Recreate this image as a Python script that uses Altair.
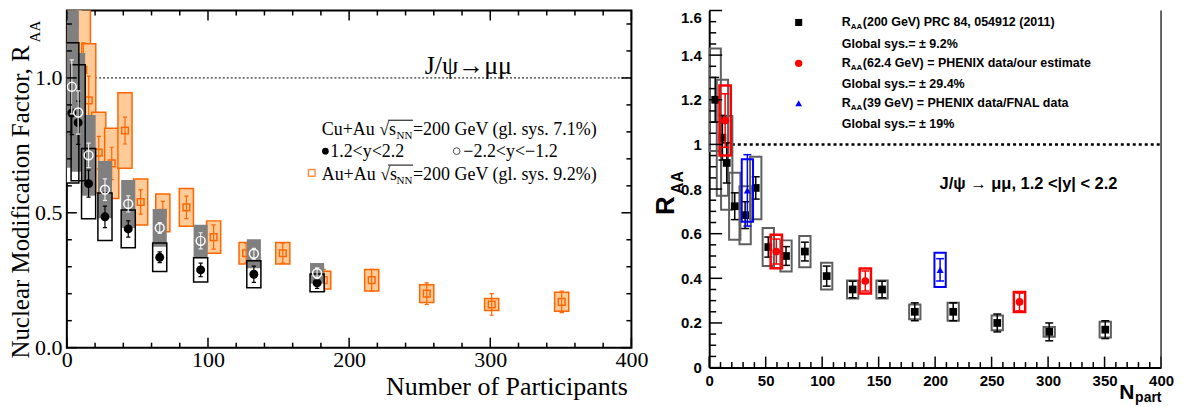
import altair as alt
import pandas as pd

# ---------------- data ----------------
# Au+Au 200 GeV, PHENIX PRC 84, 054912 (2011)
npart_auau = [5.3, 11.7, 15.5, 22.6, 31.8, 41.2, 52.3, 68.0, 84.7, 104.0, 127.0, 153.0, 182.0, 216.0, 255.0, 301.0, 350.6]
raa_auau = [1.20, 1.03, 0.917, 0.723, 0.683, 0.805, 0.54, 0.50, 0.52, 0.41, 0.35, 0.35, 0.25, 0.25, 0.20, 0.16, 0.17]
stat_auau = [0.10, 0.10, 0.09, 0.06, 0.06, 0.05, 0.045, 0.042, 0.042, 0.045, 0.037, 0.037, 0.04, 0.04, 0.04, 0.04, 0.04]
sys_auau = [0.23, 0.26, 0.21, 0.15, 0.13, 0.14, 0.085, 0.07, 0.07, 0.06, 0.04, 0.04, 0.033, 0.04, 0.033, 0.022, 0.035]

# Cu+Au 200 GeV
npart_cuau = [3.5, 8.0, 15.4, 27.0, 43.5, 65.8, 94.8, 132.5, 177.3]
raa_fwd = [0.87, 0.834, 0.608, 0.485, 0.44, 0.335, 0.288, 0.272, 0.24]
stat_fwd = [0.08, 0.08, 0.05, 0.04, 0.03, 0.02, 0.025, 0.03, 0.02]
sys_fwd = [0.26, 0.215, 0.13, 0.088, 0.07, 0.053, 0.045, 0.05, 0.033]
raa_bwd = [0.967, 0.872, 0.713, 0.586, 0.533, 0.444, 0.396, 0.348, 0.276]
stat_bwd = [0.10, 0.08, 0.045, 0.04, 0.03, 0.02, 0.03, 0.02, 0.02]
sys_bwd = [0.30, 0.22, 0.15, 0.106, 0.089, 0.07, 0.06, 0.054, 0.038]

# 62.4 GeV
npart_62 = [14.1, 59.4, 138.2, 274.7]
raa_62 = [1.107, 0.52, 0.388, 0.294]
stat_62 = [0.12, 0.056, 0.045, 0.04]
sys_62 = [0.157, 0.075, 0.056, 0.045]

# 39 GeV
npart_39 = [33.8, 204.4]
raa_39 = [0.794, 0.438]
stat_39 = [0.16, 0.05]
sys_39 = [0.14, 0.077]

# tick positions
lx_major = [0, 100, 200, 300, 400]
lx_minor = [20, 40, 60, 80, 120, 140, 160, 180, 220, 240, 260, 280, 320, 340, 360, 380]
ly_major = [0.0, 0.5, 1.0]
ly_minor = [0.1, 0.2, 0.3, 0.4, 0.6, 0.7, 0.8, 0.9, 1.1, 1.2]
rx_major = [0, 50, 100, 150, 200, 250, 300, 350, 400]
rx_minor = [v for v in range(10, 400, 10) if v % 50 != 0]
ry_major = [0, 0.2, 0.4, 0.6, 0.8, 1.0, 1.2, 1.4, 1.6]
ry_minor = [0.05, 0.1, 0.15, 0.25, 0.3, 0.35, 0.45, 0.5, 0.55, 0.65, 0.7, 0.75,
            0.85, 0.9, 0.95, 1.05, 1.1, 1.15, 1.25, 1.3, 1.35, 1.45, 1.5, 1.55]

BOX = 5.0  # half width of systematic boxes (Npart units)


def table(n, r, st, sy, cap):
    d = pd.DataFrame({"N": n, "R": r, "stat": st, "sys": sy})
    d["x1"] = d.N - BOX
    d["x2"] = d.N + BOX
    d["lo"] = d.R - d.sys
    d["hi"] = d.R + d.sys
    d["slo"] = d.R - d.stat
    d["shi"] = d.R + d.stat
    d["c1"] = d.N - cap
    d["c2"] = d.N + cap
    return d


one = pd.DataFrame({"k": [0]})


def txt(s, x, y, size, font, weight="normal", align="left", angle=0, color="black"):
    return (alt.Chart(one)
            .mark_text(text=s, font=font, fontSize=size, fontWeight=weight, align=align,
                       baseline="alphabetic", angle=angle, color=color)
            .encode(x=alt.value(x), y=alt.value(y)))


def hline(x1, x2, y, color="black", w=1):
    return alt.Chart(one).mark_rule(color=color, strokeWidth=w).encode(
        x=alt.value(x1), x2=alt.value(x2), y=alt.value(y))


# ================= LEFT PANEL =================
# plot origin on the page ~ (67.5, 8)
LW, LH = 566, 338
lxs = alt.Scale(domain=[0, 400], nice=False, zero=False)
lys = alt.Scale(domain=[0, 1.25], nice=False, zero=False)
SERIF = "Liberation Serif"
lxa = alt.Axis(values=lx_major, format="d", labelFont=SERIF, labelFontSize=22, labelColor="black",
               labelPadding=2, ticks=False, domain=False, grid=False, title=None, labelFlush=False)
lya = alt.Axis(values=ly_major, format=".1f", labelFont=SERIF, labelFontSize=22, labelColor="black",
               labelPadding=5, ticks=False, domain=False, grid=False, title=None, labelFlush=False)


def LX(f):
    return alt.X(f, type="quantitative", scale=lxs, axis=lxa)


def LY(f):
    return alt.Y(f, type="quantitative", scale=lys, axis=lya)


auL = table(npart_auau, raa_auau, stat_auau, sys_auau, 1.5)
fw = table(npart_cuau, raa_fwd, stat_fwd, sys_fwd, 1.5)
bw = table(npart_cuau, raa_bwd, stat_bwd, sys_bwd, 1.5)
refL = pd.DataFrame({"a": [20], "b": [400], "y": [1.0]})

ORANGE = "#ff6600"
L = []
L.append(alt.Chart(refL).mark_rule(color="black", strokeWidth=1, strokeDash=[2, 2])
         .encode(x=LX("a"), x2="b", y=LY("y")))
# Au+Au
L.append(alt.Chart(auL).mark_rect(fill="#ffcc99", stroke=ORANGE, strokeWidth=1.5, clip=True)
         .encode(x=LX("x1"), x2="x2", y=LY("lo"), y2="hi"))
L.append(alt.Chart(auL).mark_rule(color=ORANGE, strokeWidth=1.2, clip=True)
         .encode(x=LX("N"), y=LY("slo"), y2="shi"))
for c in ["slo", "shi"]:
    L.append(alt.Chart(auL).mark_rule(color=ORANGE, strokeWidth=1.2, clip=True)
             .encode(x=LX("c1"), x2="c2", y=LY(c)))
L.append(alt.Chart(auL).mark_point(shape="square", filled=False, color=ORANGE, size=45,
                                   strokeWidth=1.5, clip=True, opacity=1)
         .encode(x=LX("N"), y=LY("R")))
# Cu+Au boxes
L.append(alt.Chart(fw).mark_rect(fill="white", clip=True)
         .encode(x=LX("x1"), x2="x2", y=LY("lo"), y2="hi"))
L.append(alt.Chart(bw).mark_rect(fill="#808080", clip=True)
         .encode(x=LX("x1"), x2="x2", y=LY("lo"), y2="hi"))
L.append(alt.Chart(fw).mark_rect(fillOpacity=0, stroke="black", strokeWidth=1.5, clip=True)
         .encode(x=LX("x1"), x2="x2", y=LY("lo"), y2="hi"))
# forward
L.append(alt.Chart(fw).mark_rule(color="black", strokeWidth=1.2, clip=True)
         .encode(x=LX("N"), y=LY("slo"), y2="shi"))
for c in ["slo", "shi"]:
    L.append(alt.Chart(fw).mark_rule(color="black", strokeWidth=1.2, clip=True)
             .encode(x=LX("c1"), x2="c2", y=LY(c)))
L.append(alt.Chart(fw).mark_circle(color="black", size=80, opacity=1, clip=True)
         .encode(x=LX("N"), y=LY("R")))
# backward
L.append(alt.Chart(bw).mark_rule(color="#e8e8e8", strokeWidth=1.2, clip=True)
         .encode(x=LX("N"), y=LY("slo"), y2="shi"))
for c in ["slo", "shi"]:
    L.append(alt.Chart(bw).mark_rule(color="#e8e8e8", strokeWidth=1.2, clip=True)
             .encode(x=LX("c1"), x2="c2", y=LY(c)))
L.append(alt.Chart(bw).mark_point(shape="circle", filled=False, color="white", size=80,
                                  strokeWidth=1.5, opacity=1, clip=True)
         .encode(x=LX("N"), y=LY("R")))
# inside ticks
for vals, ln in [(lx_major, 10), (lx_minor, 5)]:
    d = pd.DataFrame({"v": vals})
    L.append(alt.Chart(d).mark_rule(color="black", strokeWidth=1.5)
             .encode(x=LX("v"), y=alt.value(LH), y2=alt.value(LH - ln)))
    L.append(alt.Chart(d).mark_rule(color="black", strokeWidth=1.5)
             .encode(x=LX("v"), y=alt.value(0), y2=alt.value(ln)))
for vals, ln in [(ly_major, 10), (ly_minor, 5)]:
    d = pd.DataFrame({"v": vals})
    L.append(alt.Chart(d).mark_rule(color="black", strokeWidth=1.5)
             .encode(y=LY("v"), x=alt.value(0), x2=alt.value(ln)))
    L.append(alt.Chart(d).mark_rule(color="black", strokeWidth=1.5)
             .encode(y=LY("v"), x=alt.value(LW), x2=alt.value(LW - ln)))

# left texts (local coords = page - (67.5, 8))
L.append(txt("Nuclear Modification Factor, R", -37.5, 35, 25, SERIF, align="right", angle=270))
L.append(txt("AA", -26.5, 32, 15, SERIF, align="left", angle=270))
L.append(txt("Number of Participants", 562.5, 385, 26, SERIF, align="right"))
L.append(txt("J/\u03c8\u2192\u03bc\u03bc", 402.5, 64, 26, SERIF, align="center"))
FS = 18
for base, head, label in [(125, "Cu+Au \u221as", "=200 GeV (gl. sys. 7.1%)"),
                          (170, "Au+Au \u221as", "=200 GeV (gl. sys. 9.2%)")]:
    L.append(txt(head, 255.5, base, FS, SERIF))
    L.append(txt("NN", 330.5, base + 4, 11, SERIF))
    L.append(txt(label, 347, base, FS, SERIF))
    L.append(hline(322, 347, base - 15))
L.append(txt("1.2<y<2.2", 264, 147, FS, SERIF))
L.append(txt("\u22122.2<y<\u22121.2", 397.5, 147, FS, SERIF))
L.append(alt.Chart(one).mark_circle(color="black", size=45, opacity=1)
         .encode(x=alt.value(259.2), y=alt.value(141)))
L.append(alt.Chart(one).mark_point(shape="circle", filled=False, color="black", size=45, strokeWidth=1)
         .encode(x=alt.value(390.8), y=alt.value(141)))
L.append(alt.Chart(one).mark_point(shape="square", filled=False, color=ORANGE, size=45, strokeWidth=1.5)
         .encode(x=alt.value(245.5), y=alt.value(162.7)))

left = alt.layer(*L).properties(width=LW, height=LH,
                                view=alt.ViewBackground(stroke="black", strokeWidth=2))

# ================= RIGHT PANEL =================
# plot origin on the page ~ (712, 8)
RW, RH = 453, 358
rxs = alt.Scale(domain=[0, 400], nice=False, zero=False)
rys = alt.Scale(domain=[0, 1.6], nice=False, zero=False)
SANS = "Liberation Sans"
rxa = alt.Axis(values=rx_major, format="d", labelFont=SANS, labelFontSize=15, labelFontWeight="bold",
               labelColor="black", labelPadding=6, ticks=False, domain=True, domainColor="black",
               domainWidth=2, grid=False, title=None, labelFlush=False)
rya = alt.Axis(values=ry_major, format="~g", labelFont=SANS, labelFontSize=15, labelFontWeight="bold",
               labelColor="black", labelPadding=8, ticks=False, domain=True, domainColor="black",
               domainWidth=2, grid=False, title=None, labelFlush=False,
               labelBaseline={"expr": "datum.value > 1.55 ? 'top' : 'middle'"})


def RX(f):
    return alt.X(f, type="quantitative", scale=rxs, axis=rxa)


def RY(f):
    return alt.Y(f, type="quantitative", scale=rys, axis=rya)


auR = table(npart_auau, raa_auau, stat_auau, sys_auau, 3.5)
d62 = table(npart_62, raa_62, stat_62, sys_62, 3.5)
d39 = table(npart_39, raa_39, stat_39, sys_39, 3.5)
refR = pd.DataFrame({"a": [20], "b": [400], "y": [1.0]})

R = []
R.append(alt.Chart(refR).mark_rule(color="black", strokeWidth=2.5, strokeDash=[3, 3])
         .encode(x=RX("a"), x2="b", y=RY("y")))


def series(d, box_color, bar_color, mark, bw=2.0):
    out = []
    out.append(alt.Chart(d).mark_rect(fillOpacity=0, stroke=box_color, strokeWidth=bw)
               .encode(x=RX("x1"), x2="x2", y=RY("lo"), y2="hi"))
    out.append(alt.Chart(d).mark_rule(color=bar_color, strokeWidth=1.5)
               .encode(x=RX("N"), y=RY("slo"), y2="shi"))
    for c in ["slo", "shi"]:
        out.append(alt.Chart(d).mark_rule(color=bar_color, strokeWidth=1.5)
                   .encode(x=RX("c1"), x2="c2", y=RY(c)))
    out.append(mark.encode(x=RX("N"), y=RY("R")))
    return out


R += series(auR, "#5f5f5f", "black",
            alt.Chart(auR).mark_square(color="black", size=60, opacity=1))
R += series(d62, "#ff0000", "#ff0000",
            alt.Chart(d62).mark_circle(color="#ff0000", size=60, opacity=1), bw=2.5)
R += series(d39, "#0000ff", "#0000ff",
            alt.Chart(d39).mark_point(shape="triangle-up", filled=True, color="#0000ff", size=50, opacity=1),
            bw=2.0)
# inside ticks
for vals, ln in [(rx_major, 11), (rx_minor, 5.5)]:
    d = pd.DataFrame({"v": vals})
    R.append(alt.Chart(d).mark_rule(color="black", strokeWidth=1.5)
             .encode(x=RX("v"), y=alt.value(RH), y2=alt.value(RH - ln)))
for vals, ln in [(ry_major, 13), (ry_minor, 7)]:
    d = pd.DataFrame({"v": vals})
    R.append(alt.Chart(d).mark_rule(color="black", strokeWidth=1.5)
             .encode(y=RY("v"), x=alt.value(0), x2=alt.value(ln)))
R.append(alt.Chart(one).mark_rule(color="#333333", strokeWidth=1.5)
         .encode(x=alt.value(RW), y=alt.value(0), y2=alt.value(RH)))

# right texts (local coords = page - (712, 8))
R.append(txt("R", -35, 205, 26, SANS, weight="bold", align="left", angle=270))
R.append(txt("AA", -26, 184, 16, SANS, weight="bold", align="left", angle=270))
R.append(txt("N", 411, 389, 21, SANS, weight="bold"))
R.append(txt("part", 427, 392, 14, SANS, weight="bold"))
LEGX = 133
rows = [(16, "(200 GeV) PRC 84, 054912 (2011)", True), (38, "Global sys.= \u00b1 9.2%", False),
        (57, "(62.4 GeV) = PHENIX data/our estimate", True), (78, "Global sys.= \u00b1 29.4%", False),
        (97, "(39 GeV) = PHENIX data/FNAL data", True), (118, "Global sys.= \u00b1 19%", False)]
for yb, s, has_r in rows:
    if has_r:
        R.append(txt("R", LEGX, yb, 12.5, SANS, weight="bold"))
        R.append(txt("AA", LEGX + 9, yb + 2.5, 8, SANS, weight="bold"))
        R.append(txt(s, LEGX + 21, yb, 12.5, SANS, weight="bold"))
    else:
        R.append(txt(s, LEGX, yb, 12.5, SANS, weight="bold"))
R.append(alt.Chart(one).mark_square(color="black", size=50, opacity=1)
         .encode(x=alt.value(89.7), y=alt.value(12)))
R.append(alt.Chart(one).mark_circle(color="#ff0000", size=55, opacity=1)
         .encode(x=alt.value(89.7), y=alt.value(53)))
R.append(alt.Chart(one).mark_point(shape="triangle-up", filled=True, color="#0000ff", size=45, opacity=1)
         .encode(x=alt.value(89.7), y=alt.value(93)))
R.append(txt("J/\u03c8 \u2192 \u03bc\u03bc, 1.2 <|y| < 2.2", 231, 179, 16.5, SANS, weight="bold"))

right = alt.layer(*R).properties(width=RW, height=RH,
                                 view=alt.ViewBackground(stroke="transparent"))

chart = (alt.hconcat(left, right, spacing=78, bounds="flush")
         .properties(padding={"left": 0, "top": 0, "right": 5, "bottom": 0})
         .configure_view(stroke="transparent"))

chart.save("out.html", embed_options={"renderer": "svg", "actions": False})
